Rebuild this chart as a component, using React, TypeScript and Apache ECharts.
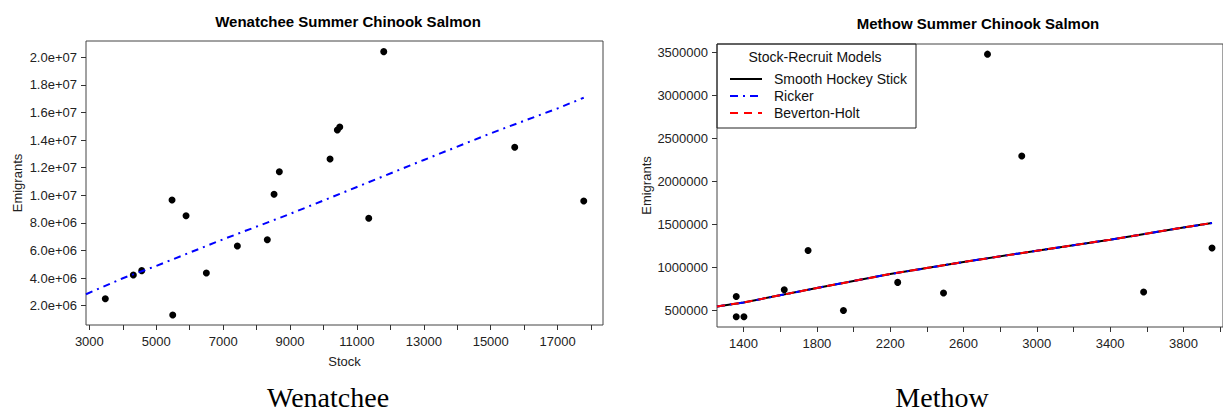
import React, { useEffect, useRef } from "react";
import * as echarts from "echarts";

// Wenatchee data
const wenStock = [3478, 4315, 4566, 5472, 5493, 5891, 6498, 7425, 8321, 8522, 8680, 10196, 10414, 10486, 11353, 11801, 15717, 17780];
const wenEmigrants = [2.5e6, 4.22e6, 4.54e6, 9.66e6, 1.33e6, 8.52e6, 4.37e6, 6.33e6, 6.78e6, 10.07e6, 11.71e6, 12.63e6, 14.73e6, 14.95e6, 8.33e6, 20.41e6, 13.48e6, 9.59e6];
const wenFitStock = [2900, 4000, 5000, 7000, 9000, 11000, 13000, 15000, 17000, 17780];
const wenFitRicker = [2.83e6, 3.99e6, 4.88e6, 6.81e6, 8.65e6, 10.6e6, 12.56e6, 14.49e6, 16.3e6, 17.07e6];
const wenXTicks = [3000, 4000, 5000, 6000, 7000, 8000, 9000, 10000, 11000, 12000, 13000, 14000, 15000, 16000, 17000, 18000];
const wenXLabels = [3000, 5000, 7000, 9000, 11000, 13000, 15000, 17000];
const wenYTicks = [2e6, 4e6, 6e6, 8e6, 10e6, 12e6, 14e6, 16e6, 18e6, 20e6];

// Methow data
const metStock = [1360, 1360, 1402, 1622, 1752, 1945, 2241, 2491, 2731, 2918, 3583, 3956];
const metEmigrants = [666000, 430000, 430000, 744000, 1200000, 503000, 829000, 706000, 3480000, 2297000, 717000, 1228000];
const metFitStock = [1255, 1400, 1800, 2200, 2600, 3000, 3400, 3800, 3956];
const metFitHockey = [550000, 596000, 764000, 926000, 1066000, 1197000, 1325000, 1467000, 1519000];
const metFitRicker = [550000, 596000, 764000, 926000, 1066000, 1197000, 1325000, 1467000, 1519000];
const metFitBH = [550000, 596000, 764000, 926000, 1066000, 1197000, 1325000, 1467000, 1519000];
const metXTicks = [1400, 1600, 1800, 2000, 2200, 2400, 2600, 2800, 3000, 3200, 3400, 3600, 3800, 4000];
const metXLabels = [1400, 1800, 2200, 2600, 3000, 3400, 3800];
const metYTicks = [500000, 1000000, 1500000, 2000000, 2500000, 3000000, 3500000];

const zip = (a: number[], b: number[]) => a.map((v, i) => [v, b[i]]);

const sciFmt = (v: number) => {
  const e = Math.floor(Math.log10(v));
  const m = v / Math.pow(10, e);
  return m.toFixed(1) + "e+" + String(e).padStart(2, "0");
};

const FONT = "'Liberation Sans', Arial, sans-serif";
const labelStyle = { fontFamily: FONT, fontSize: 13, color: "#222" };

export default function App() {
  const ref = useRef<HTMLDivElement>(null);
  useEffect(() => {
    if (!ref.current) return;
    const chart = echarts.init(ref.current, undefined, { renderer: "svg" });
    const axisTick = { show: true, length: 5, lineStyle: { color: "#333", width: 1 } };
    chart.setOption({
      animation: false,
      backgroundColor: "#fff",
      title: [
        {
          text: "Wenatchee Summer Chinook Salmon",
          left: 343,
          top: 9,
          textAlign: "center",
          textStyle: { fontFamily: FONT, fontSize: 15, fontWeight: "bold", color: "#000" },
        },
        {
          text: "Methow Summer Chinook Salmon",
          left: 973,
          top: 11,
          textAlign: "center",
          textStyle: { fontFamily: FONT, fontSize: 15, fontWeight: "bold", color: "#000" },
        },
      ],
      grid: [
        { left: 86, top: 41, width: 517, height: 284, show: true, borderColor: "#444", borderWidth: 1 },
        { left: 717, top: 44, width: 507, height: 283, show: true, borderColor: "#444", borderWidth: 1 },
      ],
      xAxis: [
        {
          type: "value",
          gridIndex: 0,
          min: 2900,
          max: 18356,
          name: "Stock",
          nameLocation: "middle",
          nameGap: 30,
          nameTextStyle: { ...labelStyle },
          axisLine: { show: false },
          splitLine: { show: false },
          axisTick: { ...axisTick, customValues: wenXTicks },
          axisLabel: { ...labelStyle, margin: 10, customValues: wenXLabels, formatter: (v: number) => String(v) },
        },
        {
          type: "value",
          gridIndex: 1,
          min: 1255,
          max: 4016,
          axisLine: { show: false },
          splitLine: { show: false },
          axisTick: { ...axisTick, customValues: metXTicks },
          axisLabel: { ...labelStyle, margin: 10, customValues: metXLabels, formatter: (v: number) => String(v) },
        },
      ],
      yAxis: [
        {
          type: "value",
          gridIndex: 0,
          min: 600000,
          max: 21180000,
          name: "Emigrants",
          nameLocation: "middle",
          nameRotate: 90,
          nameGap: 62,
          nameTextStyle: { ...labelStyle },
          axisLine: { show: false },
          splitLine: { show: false },
          axisTick: { ...axisTick, customValues: wenYTicks },
          axisLabel: { ...labelStyle, margin: 9, customValues: wenYTicks, formatter: sciFmt },
        },
        {
          type: "value",
          gridIndex: 1,
          min: 311000,
          max: 3598000,
          name: "Emigrants",
          nameLocation: "middle",
          nameRotate: 90,
          nameGap: 63,
          nameTextStyle: { ...labelStyle },
          axisLine: { show: false },
          splitLine: { show: false },
          axisTick: { ...axisTick, customValues: metYTicks },
          axisLabel: { ...labelStyle, margin: 9, customValues: metYTicks, formatter: (v: number) => String(v) },
        },
      ],
      legend: {
        data: ["Smooth Hockey Stick", "Ricker", "Beverton-Holt"],
        orient: "vertical",
        left: 729,
        top: 72,
        itemWidth: 32,
        itemHeight: 14,
        itemGap: 3,
        padding: 0,
        itemStyle: { opacity: 0 },
        textStyle: { fontFamily: FONT, fontSize: 14, color: "#111", padding: [0, 0, 0, 7] },
      },
      graphic: [
        {
          type: "rect",
          shape: { x: 717, y: 44, width: 199, height: 84 },
          style: { fill: "none", stroke: "#222", lineWidth: 1 },
          silent: true,
        },
        {
          type: "text",
          x: 815,
          y: 57,
          style: { text: "Stock-Recruit Models", fontFamily: FONT, fontSize: 14, fill: "#111", align: "center", verticalAlign: "middle" },
        },
        {
          type: "text",
          x: 328,
          y: 397,
          style: { text: "Wenatchee", fontFamily: "'Liberation Serif', 'Times New Roman', serif", fontSize: 28, fill: "#000", align: "center", verticalAlign: "middle" },
        },
        {
          type: "text",
          x: 942,
          y: 397,
          style: { text: "Methow", fontFamily: "'Liberation Serif', 'Times New Roman', serif", fontSize: 28, fill: "#000", align: "center", verticalAlign: "middle" },
        },
      ],
      series: [
        {
          name: "Wenatchee Ricker",
          type: "line",
          xAxisIndex: 0,
          yAxisIndex: 0,
          data: zip(wenFitStock, wenFitRicker),
          symbol: "none",
          lineStyle: { color: "#0000ff", width: 2, type: [7, 5, 2, 5] },
        },
        {
          name: "Wenatchee",
          type: "scatter",
          xAxisIndex: 0,
          yAxisIndex: 0,
          data: zip(wenStock, wenEmigrants),
          symbolSize: 7,
          itemStyle: { color: "#000", opacity: 1 },
        },
        {
          name: "Smooth Hockey Stick",
          type: "line",
          xAxisIndex: 1,
          yAxisIndex: 1,
          data: zip(metFitStock, metFitHockey),
          symbol: "none",
          itemStyle: { color: "#000" },
          lineStyle: { color: "#000", width: 2, type: "solid" },
        },
        {
          name: "Ricker",
          type: "line",
          xAxisIndex: 1,
          yAxisIndex: 1,
          data: zip(metFitStock, metFitRicker),
          symbol: "none",
          itemStyle: { color: "#0000ff" },
          lineStyle: { color: "#0000ff", width: 2, type: [8, 5, 2, 5] },
        },
        {
          name: "Beverton-Holt",
          type: "line",
          xAxisIndex: 1,
          yAxisIndex: 1,
          data: zip(metFitStock, metFitBH),
          symbol: "none",
          itemStyle: { color: "#ff0000" },
          lineStyle: { color: "#ff0000", width: 2, type: [8, 6] },
        },
        {
          name: "Methow",
          type: "scatter",
          xAxisIndex: 1,
          yAxisIndex: 1,
          data: zip(metStock, metEmigrants),
          symbolSize: 7,
          itemStyle: { color: "#000", opacity: 1 },
        },
      ],
    });
    return () => chart.dispose();
  }, []);
  return (
    <div
      ref={ref}
      style={{ position: "fixed", left: 0, top: 0, width: 1223, height: 412, background: "#fff" }}
    />
  );
}
